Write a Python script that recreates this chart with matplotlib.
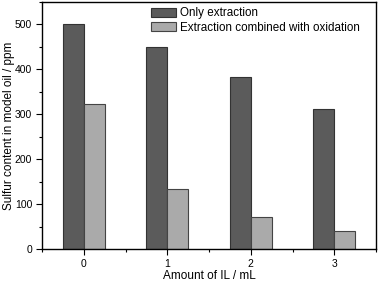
import matplotlib
matplotlib.use("Agg")
import matplotlib.pyplot as plt
import numpy as np
from matplotlib.ticker import MultipleLocator

plt.rcParams['font.family'] = ['Liberation Sans', 'DejaVu Sans']

categories = ['0', '1', '2', '3']
only_extraction = [500, 449, 384, 311]
extraction_oxidation = [322, 134, 72, 41]

fig = plt.figure(figsize=(3.78, 2.85), dpi=100)
ax = fig.add_axes([42/378, 1-249/285, 334/378, 247/285])

x = np.arange(len(categories))
w = 0.25
ax.bar(x - w/2, only_extraction, w, color='#5b5b5b', edgecolor='#333333', linewidth=0.8,
       label='Only extraction')
ax.bar(x + w/2, extraction_oxidation, w, color='#aaaaaa', edgecolor='#444444', linewidth=0.8,
       label='Extraction combined with oxidation')

ax.set_xlim(-0.5, 3.5)
ax.set_ylim(0, 550)
ax.set_xticks(x)
ax.set_xticklabels(categories)
ax.xaxis.set_minor_locator(MultipleLocator(0.5))
ax.yaxis.set_major_locator(MultipleLocator(100))
ax.yaxis.set_minor_locator(MultipleLocator(50))
ax.tick_params(which='major', direction='out', length=4, width=0.8, labelsize=7.5, pad=3)
ax.tick_params(which='minor', direction='out', length=2, width=0.8)
for s in ax.spines.values():
    s.set_linewidth(1.0)

ax.set_xlabel('Amount of IL / mL', fontsize=8.5)
ax.set_ylabel('Sulfur content in model oil / ppm', fontsize=8.5)
ax.xaxis.set_label_coords(0.5, (249-276)/247)
ax.yaxis.set_label_coords((9-42)/334, 0.5)
ax.xaxis.label.set_va('center')
ax.yaxis.label.set_va('center')

ax.legend(loc='upper left', bbox_to_anchor=(150/378, 1-6/285), bbox_transform=fig.transFigure,
          frameon=False, fontsize=8.4, handlelength=2.15, handleheight=0.8,
          borderpad=0.1, borderaxespad=0, labelspacing=0.2, handletextpad=0.3)

fig.savefig('out.png', dpi=100)
